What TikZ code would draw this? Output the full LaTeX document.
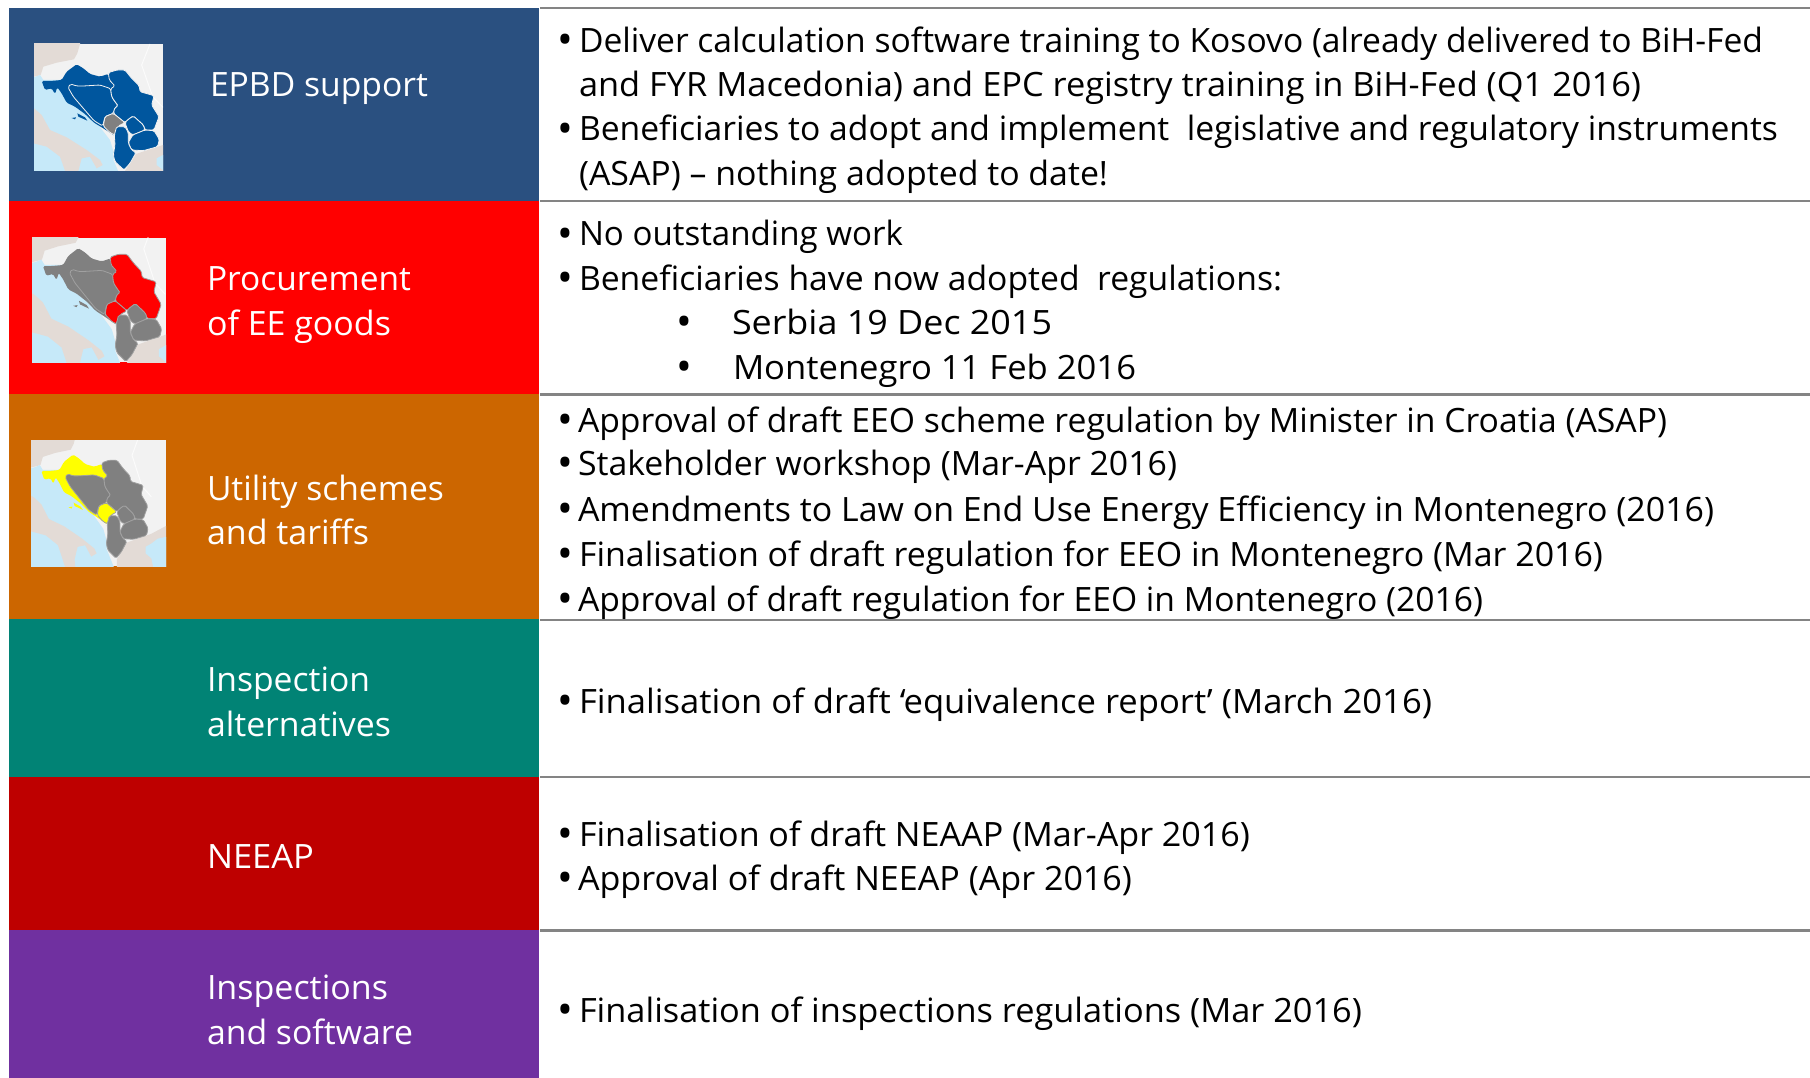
\documentclass[tikz,border=0pt]{standalone}
\usepackage{graphicx}
\usepackage{fontspec}
\setmainfont{Open Sans}
\definecolor{cblue}{HTML}{2A5080}
\definecolor{cred}{HTML}{FF0000}
\definecolor{corange}{HTML}{CC6600}
\definecolor{cteal}{HTML}{018375}
\definecolor{cdark}{HTML}{BE0000}
\definecolor{cpurple}{HTML}{7030A0}
\definecolor{mapblue}{HTML}{00569E}
\definecolor{mapgray}{HTML}{808080}
\definecolor{mapyellow}{HTML}{FFFF00}
\definecolor{mapsea}{HTML}{C6E9F9}
\definecolor{mapland}{HTML}{E3DBD6}
\definecolor{mapnear}{HTML}{F2F2F2}
\definecolor{rulegray}{HTML}{848484}
\newsavebox\fitbox
\newcommand\fitw[2]{\sbox\fitbox{#2}\pgfmathsetmacro\fitr{#1/\the\wd\fitbox}\scalebox{\fitr}[1]{\usebox\fitbox}}
\tikzset{
  panel/.style={fill=#1,draw=none},
  rowrule/.style={draw=rulegray,line width=2.6pt},
  txt/.style={anchor=base west,inner sep=0pt,outer sep=0pt,font=\fontsize{33.5}{40}\selectfont},
  lbl/.style={txt,text=white},
  bul/.style={anchor=base,inner sep=0pt,outer sep=0pt,font=\fontsize{42}{44}\selectfont},
  land/.style={fill=#1,draw=mapedge,line width=.8pt,rounded corners=1.5pt}
}
% name, x, baseline y, end x, text
\newcommand\tl[6][txt]{\pgfmathsetmacro\tlw{#5-#3}\node[#1] (#2) at (#3,#4) {\fitw{\tlw pt}{#6}};}
\newcommand\bl[3]{\node[bul] (#1) at (#2+.5,#3+2.5) {•};}
\def\mapcolours#1,#2,#3,#4,#5,#6\relax{%
 \colorlet{mapC}{#1}\colorlet{mapB}{#2}\colorlet{mapS}{#3}\colorlet{mapM}{#4}\colorlet{mapK}{#5}\colorlet{mapedge}{#6}}
% x0,y0,x1,y1, scalex, scaley, offx, offy, colour list
\newcommand\wbmap[9]{%
 \begin{scope}
 \clip (#1,#2) rectangle (#3,#4);
 \fill[mapnear] (#1,#2) rectangle (#3,#4);
 \begin{scope}[shift={(#1,#2)},xscale=#5/3,yscale=#6/3,shift={(#7-102,#8-132)}]
 \mapbody{#9}
 \end{scope}
 \end{scope}}
\newcommand\mapbody[1]{\mapcolours#1\relax
 \fill[mapland] (60,60) -- (250,60) -- (240,132) -- (232,160) -- (222,178) -- (170,188) -- (130,200) -- (122,225) -- (60,240) -- cycle;
 \fill[mapsea] (60,240) -- (102,232) -- (120,225) -- (130,240) -- (190,240) -- (330,420) -- (345,470) -- (340,480) -- (375,560) -- (60,560) -- cycle;
 \fill[mapland] (60,300) -- (102,325) -- (125,345) -- (150,390) -- (200,412) -- (260,450) -- (300,480) -- (308,495) -- (290,505) -- (270,470) -- (245,475) -- (235,513) -- (240,560) -- (212,560) -- (180,470) -- (140,440) -- (60,420) -- cycle;
 \fill[mapland] (375,513) -- (408,462) -- (489,435) -- (560,400) -- (560,560) -- (375,560) -- cycle;
 \fill[mapsea] (489,465) -- (470,475) -- (470,495) -- (489,510) -- (500,560) -- (560,560) -- (560,440) -- (510,450) -- cycle;
 \draw[white,line width=1pt,opacity=.7] (450,132) -- (425,195) -- (458,290) -- (489,322);
 \path[fill=mapC,rounded corners=1.5pt] (125,243) -- (150,243) -- (185,240) -- (200,215) -- (230,193) -- (250,205) -- (270,222) -- (300,230) -- (325,222) -- (345,258) -- (340,345) -- (315,350) -- (308,378) -- (345,408) -- (310,385) -- (282,368) -- (255,342) -- (225,320) -- (200,308) -- (185,280) -- (172,262) -- (165,282) -- (155,265) -- (135,270) -- cycle;
 \fill[mapC] (215,354) -- (228,352) -- (225,358) -- cycle (232,340) -- (255,352) -- (262,362) -- (235,350) -- cycle;
 \path[land=mapB] (204,262) -- (212,252) -- (230,258) -- (250,258) -- (300,255) -- (332,266) -- (335,290) -- (345,305) -- (355,318) -- (345,322) -- (340,340) -- (315,350) -- (308,378) -- (282,362) -- (250,325) -- (220,290) -- cycle;
 \path[land=mapS] (325,218) -- (350,210) -- (375,210) -- (395,235) -- (418,258) -- (420,275) -- (462,287) -- (455,315) -- (477,350) -- (462,390) -- (435,390) -- (430,375) -- (400,348) -- (385,358) -- (375,368) -- (340,340) -- (345,322) -- (355,318) -- (345,305) -- (335,290) -- (332,266) -- (345,258) -- (328,240) -- cycle;
 \path[land=mapM] (340,340) -- (375,368) -- (355,378) -- (345,405) -- (330,398) -- (310,378) -- (315,350) -- cycle;
 \path[land=mapK] (400,348) -- (430,375) -- (435,390) -- (398,405) -- (385,395) -- (375,368) -- (385,358) -- cycle;
 \path[land=mapK] (398,405) -- (435,390) -- (462,392) -- (478,418) -- (473,440) -- (430,452) -- (395,450) -- (385,428) -- cycle;
 \path[land=mapK] (350,380) -- (375,380) -- (385,398) -- (385,430) -- (395,450) -- (408,458) -- (390,490) -- (372,510) -- (345,485) -- (340,465) -- (345,435) -- (343,405) -- cycle;
}
\begin{document}
\begin{tikzpicture}[x=1pt,y=-1pt]
\useasboundingbox (0,0) rectangle (1810,1078);
\fill[white] (0,0) rectangle (1810,1078);
% panels
\fill[panel=cblue] (9,8) rectangle (539,201);
\fill[panel=cred] (9,201) rectangle (539,394);
\fill[panel=corange] (9,394) rectangle (539,619);
\fill[panel=cteal] (9,619) rectangle (539,777);
\fill[panel=cdark] (9,777) rectangle (539,930);
\fill[panel=cpurple] (9,930) rectangle (539,1078);
% rules
\coordinate (r0a) at (540,8); \coordinate (r0b) at (1810,8);
\coordinate (r1a) at (540,201); \coordinate (r1b) at (1810,201);
\coordinate (r2a) at (540,394.5); \coordinate (r2b) at (1810,394.5);
\coordinate (r3a) at (540,620); \coordinate (r3b) at (1810,620);
\coordinate (r4a) at (540,777); \coordinate (r4b) at (1810,777);
\coordinate (r5a) at (540,930.5); \coordinate (r5b) at (1810,930.5);
\draw[rowrule] (r0a)--(r0b); \draw[rowrule] (r1a)--(r1b); \draw[rowrule] (r2a)--(r2b);
\draw[rowrule] (r3a)--(r3b); \draw[rowrule] (r4a)--(r4b); \draw[rowrule] (r5a)--(r5b);
% maps
\wbmap{34}{44}{163}{171}{1}{1}{0}{0}{mapblue,mapblue,mapblue,mapgray,mapblue,mapnear}
\wbmap{32}{238}{166}{362}{1.008}{1.074}{9.7}{-32.6}{mapgray,mapgray,cred,cred,mapgray,mapgray!75!white}
\wbmap{31}{440}{166}{566}{.907}{.981}{11.2}{-16.3}{mapyellow,mapgray,mapgray,mapyellow,mapgray,mapgray!75!white}
% left labels
\tl[lbl]{a1}{210}{97}{428}{EPBD support}
\tl[lbl]{a2}{207}{290}{411}{Procurement}
\tl[lbl]{a3}{207}{335}{391}{of EE goods}
\tl[lbl]{a4}{207}{500}{444}{Utility schemes}
\tl[lbl]{a5}{207}{544}{369}{and tariffs}
\tl[lbl]{a6}{207}{691}{370}{Inspection}
\tl[lbl]{a7}{207}{736}{391}{alternatives}
\tl[lbl]{a8}{207}{868}{314}{NEEAP}
\tl[lbl]{a9}{207}{999}{388}{Inspections}
\tl[lbl]{a10}{207}{1044}{413}{and software}
% row 1
\bl{b1}{565}{52}
\tl{t1}{579}{52.5}{1763}{Deliver calculation software training to Kosovo (already delivered to BiH-Fed}
\tl{t2}{579}{96.5}{1641}{and FYR Macedonia) and EPC registry training in BiH-Fed (Q1 2016)}
\bl{b2}{565}{141}
\tl{t3}{579}{141}{1778}{Beneficiaries to adopt and implement\ \ legislative and regulatory instruments}
\tl{t4}{579}{186}{1108}{(ASAP) – nothing adopted to date!}
% row 2
\bl{b3}{565}{246}
\tl{t5}{579}{246}{903}{No outstanding work}
\bl{b4}{565}{290}
\tl{t6}{579}{290}{1282}{Beneficiaries have now adopted\ \ regulations:}
\bl{b5}{684}{334}
\tl{t7}{732}{334}{1052}{Serbia 19 Dec 2015}
\bl{b6}{684}{379}
\tl{t8}{733}{379}{1136}{Montenegro 11 Feb 2016}
% row 3
\bl{b7}{565}{432}
\tl{t9}{578}{432}{1667}{Approval of draft EEO scheme regulation by Minister in Croatia (ASAP)}
\bl{b8}{565}{475}
\tl{t10}{578}{475}{1177}{Stakeholder workshop (Mar-Apr 2016)}
\bl{b9}{565}{521}
\tl{t11}{578}{521}{1714}{Amendments to Law on End Use Energy Efficiency in Montenegro (2016)}
\bl{b10}{565}{566}
\tl{t12}{579}{566}{1603}{Finalisation of draft regulation for EEO in Montenegro (Mar 2016)}
\bl{b11}{565}{611}
\tl{t13}{578}{611}{1483}{Approval of draft regulation for EEO in Montenegro (2016)}
% row 4
\bl{b12}{565}{713}
\tl{t14}{579}{713}{1432}{Finalisation of draft ‘equivalence report’ (March 2016)}
% row 5
\bl{b13}{565}{846}
\tl{t15}{579}{846}{1250}{Finalisation of draft NEAAP (Mar-Apr 2016)}
\bl{b14}{565}{890}
\tl{t16}{578}{890}{1132}{Approval of draft NEEAP (Apr 2016)}
% row 6
\bl{b15}{565}{1022}
\tl{t17}{579}{1022}{1362}{Finalisation of inspections regulations (Mar 2016)}
\end{tikzpicture}
\end{document}
